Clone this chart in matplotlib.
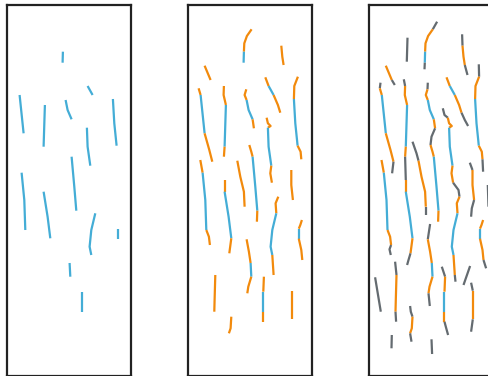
import matplotlib
matplotlib.use("Agg")
import matplotlib.pyplot as plt

# segment categories: 'b' = stage 1, 'o' = stage 2, 'g' = stage 3
colors = {"b": "#44add6", "o": "#f28a0c", "g": "#646b70"}
panel_stages = [["b"], ["b", "o"], ["b", "o", "g"]]

track_A_x = [67.6, 63.3, 58.6, 56, 55.6, 55.3, 55]
track_A_y = [16.7, 24.3, 31, 38.3, 46.7, 57.7, 64.3]
track_A_s = ["g", "o", "o", "o", "b", "g"]

track_B_x = [38, 37.3]
track_B_y = [32.7, 56.7]
track_B_s = ["g"]

track_C_x = [92.6, 93, 94, 95.3, 98]
track_C_y = [29.3, 40.7, 51.7, 60, 70]
track_C_s = ["g", "o", "o", "g"]

track_D_x = [109.3, 109.6, 106, 105.6, 107, 109.3, 112.3, 113, 113.6]
track_D_y = [59.3, 71.7, 81, 94, 118.3, 140.7, 146.7, 154.3, 166.7]
track_D_s = ["g", "o", "o", "b", "b", "o", "o", "g"]

track_E_x = [16.3, 22.3, 25.3]
track_E_y = [60.7, 75, 80]
track_E_s = ["o", "g"]

track_F_x = [11, 10.3, 12.3, 16.3, 21, 24, 22.6]
track_F_y = [77.7, 83.3, 90, 128.3, 145, 156.7, 168.3]
track_F_s = ["g", "o", "b", "o", "o", "g"]

track_G_x = [34.3, 35.6, 35.3, 37.6, 36.3, 35.6, 36.3, 36.3, 40.3, 43, 41, 39, 37.6]
track_G_y = [74.3, 81, 90, 100, 141.7, 151.7, 175, 186.7, 211.7, 233.3, 248.3, 255, 260]
track_G_s = ["g", "o", "o", "b", "o", "g", "o", "b", "b", "o", "g", "g"]

track_H_x = [58.3, 58, 56.3, 58.3, 60.3, 64.3, 65.6, 62, 61, 63, 64.3, 67, 69, 68.6]
track_H_y = [77.7, 84.3, 90, 95, 105, 114.3, 123.3, 131.7, 140, 146.7, 151.7, 181.7, 205.7, 216.7]
track_H_s = ["g", "o", "o", "b", "b", "o", "g", "g", "o", "o", "b", "b", "o"]

track_I_x = [77, 80.3, 85.3, 89.6, 92, 95.3, 98.6]
track_I_y = [72.3, 81, 90, 100, 107.7, 115, 121]
track_I_s = ["o", "b", "o", "o", "g", "g"]

track_J_x = [73.3, 75, 78.3, 79.6, 82.3, 79.6, 80.3, 83, 82, 83.6, 89, 90, 87.3, 88, 84, 82.3, 84, 85.3, 86]
track_J_y = [103.3, 110, 112.7, 118.3, 121, 122.7, 141.7, 160.7, 168.3, 177.7, 185, 191.7, 198.3, 208.3, 225, 241.7, 250, 270, 276.7]
track_J_s = ["g", "g", "o", "o", "o", "b", "b", "o", "o", "g", "g", "o", "o", "b", "b", "b", "o", "g"]

track_K_x = [43, 47, 49, 52, 55.6, 56.3, 56.3]
track_K_y = [136.7, 148.3, 155.7, 171.7, 186.7, 201.7, 210]
track_K_s = ["g", "g", "o", "o", "o", "g"]

track_L_x = [100.3, 103, 103, 104.6, 102.3, 101.6]
track_L_y = [157.7, 165, 180, 195, 203.3, 211.7]
track_L_s = ["g", "o", "o", "g", "g"]

track_M_x = [118.3, 119]
track_M_y = [180, 201.7]
track_M_s = ["g"]

track_N_x = [113.6, 112, 110.5, 110.5, 113, 114, 116.6]
track_N_y = [215, 220, 223.7, 233.7, 245, 255, 263.3]
track_N_s = ["o", "o", "b", "o", "o", "g"]

track_O_x = [12, 14.3, 17, 18, 20.6, 21.6, 20, 21.3]
track_O_y = [155, 167.7, 195, 225, 231.7, 240, 244.3, 250]
track_O_s = ["o", "b", "b", "o", "o", "g", "g"]

track_Q_x = [60.6, 58.3, 60.6, 62.3, 63, 60, 59, 60.3]
track_Q_y = [219, 234.3, 246.7, 258, 271.7, 281.7, 288.3, 301]
track_Q_s = ["g", "o", "o", "b", "o", "o", "g"]

track_R_x = [25.6, 27, 26.3, 26, 26.6]
track_R_y = [256.7, 270, 295, 306.7, 316.7]
track_R_s = ["g", "o", "o", "g"]

track_S_x = [5.6, 11.3]
track_S_y = [272.3, 306.7]
track_S_s = ["g"]

track_T_x = [72.3, 75.6, 75, 75, 75, 76.3, 78.6]
track_T_y = [261.7, 271.7, 286.7, 306.7, 316.7, 321.7, 330]
track_T_s = ["g", "o", "b", "o", "g", "g"]

track_V_x = [100.6, 94]
track_V_y = [261, 280]
track_V_s = ["g"]

track_W_x = [101.6, 103.3, 103.3, 101.6]
track_W_y = [277.7, 285.7, 314.3, 326.7]
track_W_s = ["g", "o", "g"]

track_X_x = [40.6, 41.3, 43, 42.3, 40.6, 42]
track_X_y = [301, 306.7, 311.7, 323.3, 328.3, 336.7]
track_X_s = ["g", "g", "o", "o", "g"]

track_Y_x = [22.3, 22]
track_Y_y = [330, 343.3]
track_Y_s = ["g"]

track_Z_x = [62, 62.6]
track_Z_y = [334.3, 349]
track_Z_s = ["g"]

tracks = [
    (track_A_x, track_A_y, track_A_s), (track_B_x, track_B_y, track_B_s),
    (track_C_x, track_C_y, track_C_s), (track_D_x, track_D_y, track_D_s),
    (track_E_x, track_E_y, track_E_s), (track_F_x, track_F_y, track_F_s),
    (track_G_x, track_G_y, track_G_s), (track_H_x, track_H_y, track_H_s),
    (track_I_x, track_I_y, track_I_s), (track_J_x, track_J_y, track_J_s),
    (track_K_x, track_K_y, track_K_s), (track_L_x, track_L_y, track_L_s),
    (track_M_x, track_M_y, track_M_s), (track_N_x, track_N_y, track_N_s),
    (track_O_x, track_O_y, track_O_s), (track_Q_x, track_Q_y, track_Q_s),
    (track_R_x, track_R_y, track_R_s), (track_S_x, track_S_y, track_S_s),
    (track_T_x, track_T_y, track_T_s), (track_V_x, track_V_y, track_V_s),
    (track_W_x, track_W_y, track_W_s), (track_X_x, track_X_y, track_X_s),
    (track_Y_x, track_Y_y, track_Y_s), (track_Z_x, track_Z_y, track_Z_s),
]

W, H = 489, 376
fig = plt.figure(figsize=(W / 100, H / 100), dpi=100)
panel_lefts = [7.3, 188.3, 369.5]
pw = 123.4
top, bottom = 5, 376.4

for left, stages in zip(panel_lefts, panel_stages):
    ax = fig.add_axes([left / W, (H - bottom) / H, pw / W, (bottom - top) / H])
    ax.set_xlim(0, pw)
    ax.set_ylim(bottom - top, 0)
    ax.set_xticks([])
    ax.set_yticks([])
    for sp in ax.spines.values():
        sp.set_color("#222222")
        sp.set_linewidth(1.6)
    for xs, ys, ss in tracks:
        # group consecutive segments with the same category into polylines
        i = 0
        n = len(ss)
        while i < n:
            j = i
            while j + 1 < n and ss[j + 1] == ss[i]:
                j += 1
            if ss[i] in stages:
                ax.plot(xs[i:j + 2], ys[i:j + 2], color=colors[ss[i]],
                        lw=1.6, solid_capstyle="butt", solid_joinstyle="round")
            i = j + 1

fig.savefig("out.png", dpi=100)
